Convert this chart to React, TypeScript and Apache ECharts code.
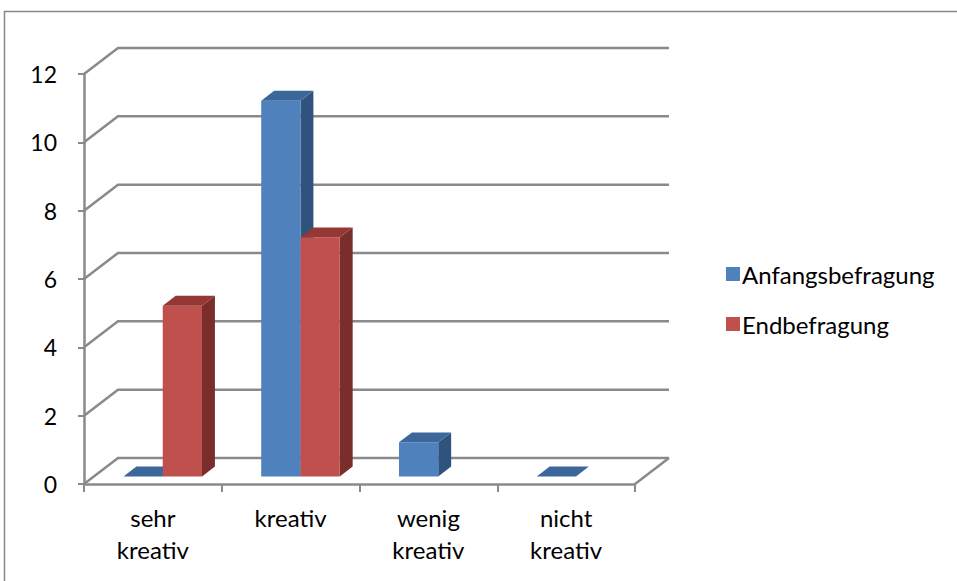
import React, { useEffect, useRef } from "react";
import * as echarts from "echarts";

const categories = ["sehr kreativ", "kreativ", "wenig kreativ", "nicht kreativ"];
const seriesNames = ["Anfangsbefragung", "Endbefragung"];
const anfangsValues: (number | null)[] = [0, 11, 1, 0];
const endValues: (number | null)[] = [5, 7, null, null];
const yTickValues = [0, 2, 4, 6, 8, 10, 12];

const DX = 34;
const DY = -26;
const F1 = 0.29;
const F2 = 0.67;
const BAR_FRAC = 0.285;
const GRID_COLOR = "#8a8a8a";
const FONT = "Lato, 'Open Sans', sans-serif";

const palettes = [
  { front: "#4F81BD", top: "#3C679A", side: "#30537E" },
  { front: "#C0504D", top: "#953735", side: "#7A2D2B" },
];

function makeBarRender(seriesIdx: number) {
  const pal = palettes[seriesIdx];
  return (params: any, api: any) => {
    const i = api.value(0);
    const v = api.value(1);
    const band = api.size([1, 0])[0];
    const c = api.coord([i, 0]);
    const w = band * BAR_FRAC;
    const x0 = seriesIdx === 0 ? c[0] - w : c[0];
    const x1 = x0 + w;
    const yb = c[1];
    const yt = api.coord([i, v])[1];
    const ax = F1 * DX, ay = F1 * DY, bx = F2 * DX, by = F2 * DY;
    const children: any[] = [];
    if (v > 0) {
      children.push({
        type: "polygon",
        shape: { points: [[x1 + ax, yt + ay], [x1 + bx, yt + by], [x1 + bx, yb + by], [x1 + ax, yb + ay]] },
        style: { fill: pal.side },
      });
      children.push({
        type: "rect",
        shape: { x: x0 + ax, y: yt + ay, width: w, height: yb - yt },
        style: { fill: pal.front },
      });
    }
    children.push({
      type: "polygon",
      shape: { points: [[x0 + ax, yt + ay], [x1 + ax, yt + ay], [x1 + bx, yt + by], [x0 + bx, yt + by]] },
      style: { fill: pal.top },
    });
    return { type: "group", children };
  };
}

export default function App() {
  const ref = useRef<HTMLDivElement>(null);
  useEffect(() => {
    if (!ref.current) return;
    const chart = echarts.init(ref.current, undefined, { renderer: "svg" });
    const gridRender = (params: any, api: any) => {
      const cs = params.coordSys;
      const v = api.value(1);
      const y = api.coord([0, v])[1];
      const xl = cs.x;
      const xr = cs.x + cs.width;
      const children: any[] = [
        {
          type: "polyline",
          shape: { points: [[xl, y], [xl + DX, y + DY], [xr + DX, y + DY]] },
          style: { stroke: GRID_COLOR, lineWidth: 2.5, fill: "none" },
        },
      ];
      if (v === 0) {
        children.push({
          type: "line",
          shape: { x1: xr, y1: y, x2: xr + DX, y2: y + DY },
          style: { stroke: GRID_COLOR, lineWidth: 2.5 },
        });
      }
      return { type: "group", children };
    };
    const option: any = {
      animation: false,
      backgroundColor: "#ffffff",
      graphic: [
        {
          type: "rect",
          silent: true,
          z: 0,
          shape: { x: 4.5, y: 11.5, width: 1200, height: 1200 },
          style: { fill: "none", stroke: "#878787", lineWidth: 1.5 },
        },
      ],
      grid: { left: 84, right: 322, top: 74, bottom: 97 },
      legend: {
        orient: "vertical",
        left: 721,
        top: 256,
        itemWidth: 14,
        itemHeight: 14,
        itemGap: 24,
        icon: "rect",
        data: seriesNames,
        textStyle: { fontFamily: FONT, fontSize: 24, lineHeight: 26, color: "#000", padding: [0, 0, 0, -3] },
      },
      xAxis: {
        type: "category",
        data: categories,
        boundaryGap: true,
        axisLine: { show: true, lineStyle: { color: GRID_COLOR, width: 2.5 } },
        axisTick: { show: true, length: 8, lineStyle: { color: GRID_COLOR, width: 2 } },
        axisLabel: {
          fontFamily: FONT,
          fontSize: 24,
          color: "#000",
          lineHeight: 32,
          margin: 17,
          formatter: (s: string) => s.replace(" ", "\n"),
        },
        splitLine: { show: false },
      },
      yAxis: {
        type: "value",
        min: 0,
        max: 12,
        interval: 2,
        axisLine: { show: true, lineStyle: { color: GRID_COLOR, width: 2.5 } },
        axisTick: { show: true, length: 6, lineStyle: { color: GRID_COLOR, width: 2 } },
        axisLabel: { fontFamily: FONT, fontSize: 23, color: "#000", margin: 27 },
        splitLine: { show: false },
      },
      series: [
        {
          type: "custom",
          name: "grid",
          silent: true,
          clip: false,
          z: 1,
          renderItem: gridRender,
          data: yTickValues.map((v) => [0, v]),
        },
        {
          type: "custom",
          name: seriesNames[0],
          clip: false,
          z: 3,
          itemStyle: { color: palettes[0].front },
          renderItem: makeBarRender(0),
          data: anfangsValues
            .map((v, i) => (v == null ? null : [i, v]))
            .filter((d) => d !== null),
        },
        {
          type: "custom",
          name: seriesNames[1],
          clip: false,
          z: 4,
          itemStyle: { color: palettes[1].front },
          renderItem: makeBarRender(1),
          data: endValues
            .map((v, i) => (v == null ? null : [i, v]))
            .filter((d) => d !== null),
        },
      ],
    };
    chart.setOption(option);
    return () => chart.dispose();
  }, []);
  return (
    <div
      ref={ref}
      style={{ position: "absolute", left: 0, top: 0, width: 957, height: 581 }}
    />
  );
}
